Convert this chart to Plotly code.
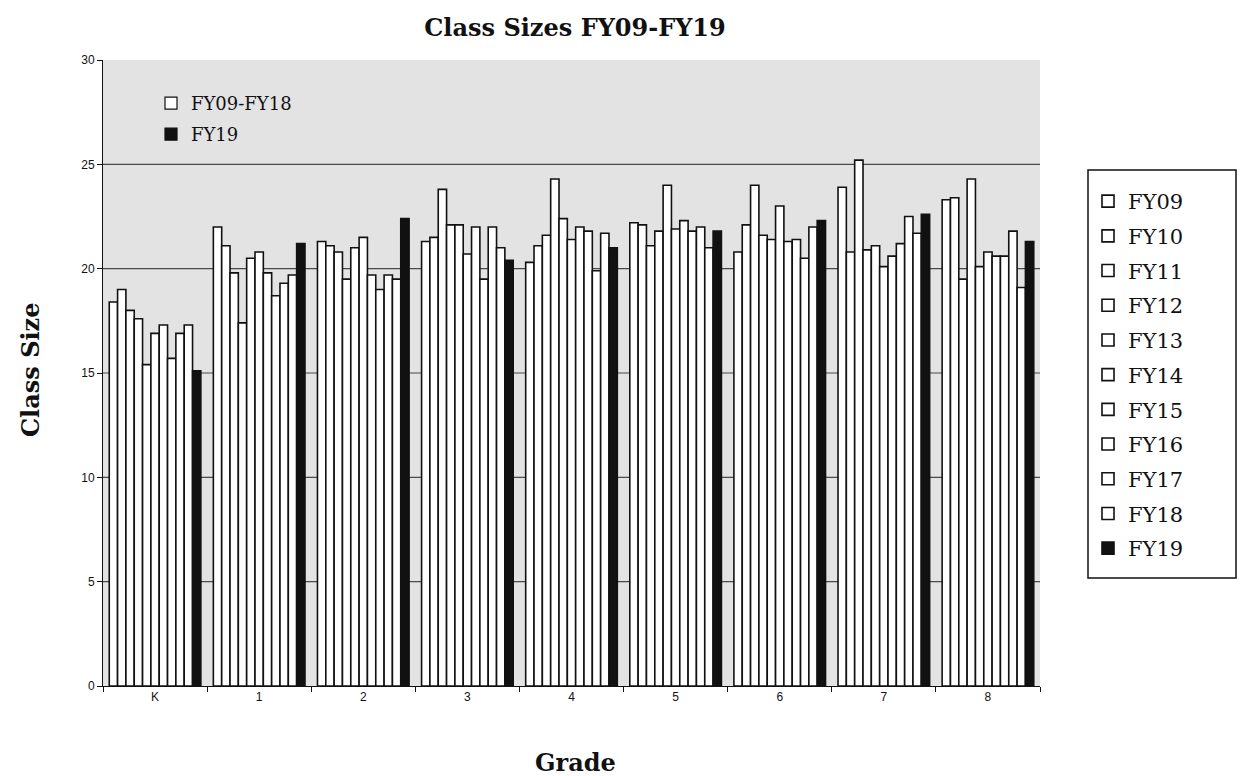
import plotly.graph_objects as go

# Grades on the x axis
grades = ["K", "1", "2", "3", "4", "5", "6", "7", "8"]

# Average class size per grade, one list per fiscal year
fy09 = [18.4, 22.0, 21.3, 21.3, 20.3, 22.2, 20.8, 23.9, 23.3]
fy10 = [19.0, 21.1, 21.1, 21.5, 21.1, 22.1, 22.1, 20.8, 23.4]
fy11 = [18.0, 19.8, 20.8, 23.8, 21.6, 21.1, 24.0, 25.2, 19.5]
fy12 = [17.6, 17.4, 19.5, 22.1, 24.3, 21.8, 21.6, 20.9, 24.3]
fy13 = [15.4, 20.5, 21.0, 22.1, 22.4, 24.0, 21.4, 21.1, 20.1]
fy14 = [16.9, 20.8, 21.5, 20.7, 21.4, 21.9, 23.0, 20.1, 20.8]
fy15 = [17.3, 19.8, 19.7, 22.0, 22.0, 22.3, 21.3, 20.6, 20.6]
fy16 = [15.7, 18.7, 19.0, 19.5, 21.8, 21.8, 21.4, 21.2, 20.6]
fy17 = [16.9, 19.3, 19.7, 22.0, 19.9, 22.0, 20.5, 22.5, 21.8]
fy18 = [17.3, 19.7, 19.5, 21.0, 21.7, 21.0, 22.0, 21.7, 19.1]
fy19 = [15.1, 21.2, 22.4, 20.4, 21.0, 21.8, 22.3, 22.6, 21.3]

series_names = ["FY09", "FY10", "FY11", "FY12", "FY13", "FY14",
                "FY15", "FY16", "FY17", "FY18", "FY19"]
series_values = [fy09, fy10, fy11, fy12, fy13, fy14,
                 fy15, fy16, fy17, fy18, fy19]

# Entries of the small key inside the plot area
key_names = ["FY09-FY18", "FY19"]

y_ticks = [0, 5, 10, 15, 20, 25, 30]

W, H = 1244, 776
L, R, T, B = 103, 1040, 60, 686  # plot area edges in pixels
pw, ph = R - L, B - T


def px_x(p):
    return (p - L) / pw


def px_y(p):
    return (B - p) / ph


SERIF = "DejaVu Serif"
DARK = "#111111"

fig = go.Figure()

for name, vals in zip(series_names, series_values):
    fill = DARK if name == "FY19" else "white"
    fig.add_trace(go.Bar(
        x=grades, y=vals, name=name,
        marker=dict(color=fill, line=dict(color=DARK, width=1.6)),
        legend="legend2", legendgroup=name,
    ))

# Summary key: marker-only traces with no points, shown only in the key
for name, fill in zip(key_names, ["white", DARK]):
    fig.add_trace(go.Scatter(
        x=[None], y=[None], name=name, mode="markers",
        marker=dict(symbol="square", size=12, color=fill,
                    line=dict(color=DARK, width=1.2)),
        legend="legend", legendgroup="key" + name, showlegend=True,
        hoverinfo="skip",
    ))

shapes = []
for v in y_ticks[1:-1]:
    shapes.append(dict(type="line", xref="paper", x0=0, x1=1, yref="y",
                       y0=v, y1=v, layer="below",
                       line=dict(color="#4a4a4a", width=1.2)))
# Frame around the per-year key
shapes.append(dict(type="rect", xref="paper", yref="paper",
                   x0=px_x(1088), x1=px_x(1236), y0=px_y(578), y1=px_y(170),
                   line=dict(color=DARK, width=1.5), fillcolor="white",
                   layer="below"))

fig.update_layout(
    width=W, height=H,
    margin=dict(l=L, r=W - R, t=T, b=H - B),
    paper_bgcolor="white",
    plot_bgcolor="#e3e3e3",
    barmode="group",
    bargap=0.12,
    bargroupgap=0,
    shapes=shapes,
    title=dict(text="<b>Class Sizes FY09-FY19</b>", x=px_x(575), xanchor="center",
               xref="paper", y=1 - 28 / H, yanchor="middle", yref="container",
               font=dict(family=SERIF, size=24, color="#111")),
    xaxis=dict(
        type="category", showgrid=False, showline=True, linecolor=DARK,
        linewidth=1, ticks="outside", tickson="boundaries", ticklen=5,
        tickcolor=DARK, tickfont=dict(family="Liberation Sans", size=12, color="#111"),
    ),
    yaxis=dict(
        range=[0, 30], tickvals=y_ticks, showgrid=False, zeroline=False,
        showline=True, linecolor=DARK, linewidth=1, ticks="outside", ticklen=5,
        tickcolor=DARK, tickfont=dict(family="Liberation Sans", size=12, color="#111"),
    ),
    legend=dict(
        x=px_x(151), y=px_y(85), xanchor="left", yanchor="top",
        bgcolor="rgba(0,0,0,0)", borderwidth=0,
        font=dict(family=SERIF, size=18, color="#111"),
        tracegroupgap=4.5, itemclick=False, itemdoubleclick=False,
    ),
    legend2=dict(
        x=px_x(1088), y=px_y(181), xanchor="left", yanchor="top",
        bgcolor="rgba(0,0,0,0)", borderwidth=0,
        font=dict(family=SERIF, size=21, color="#111"),
        tracegroupgap=4.4, itemclick=False, itemdoubleclick=False,
    ),
    annotations=[
        dict(text="<b>Grade</b>", xref="paper", yref="paper",
             x=px_x(575), y=px_y(762), xanchor="center", yanchor="middle",
             showarrow=False, font=dict(family=SERIF, size=24, color="#111")),
        dict(text="<b>Class Size</b>", xref="paper", yref="paper",
             x=px_x(30), y=px_y(370), xanchor="center", yanchor="middle",
             textangle=-90, showarrow=False,
             font=dict(family=SERIF, size=24, color="#111")),
    ],
)

fig.write_html("out.html")
